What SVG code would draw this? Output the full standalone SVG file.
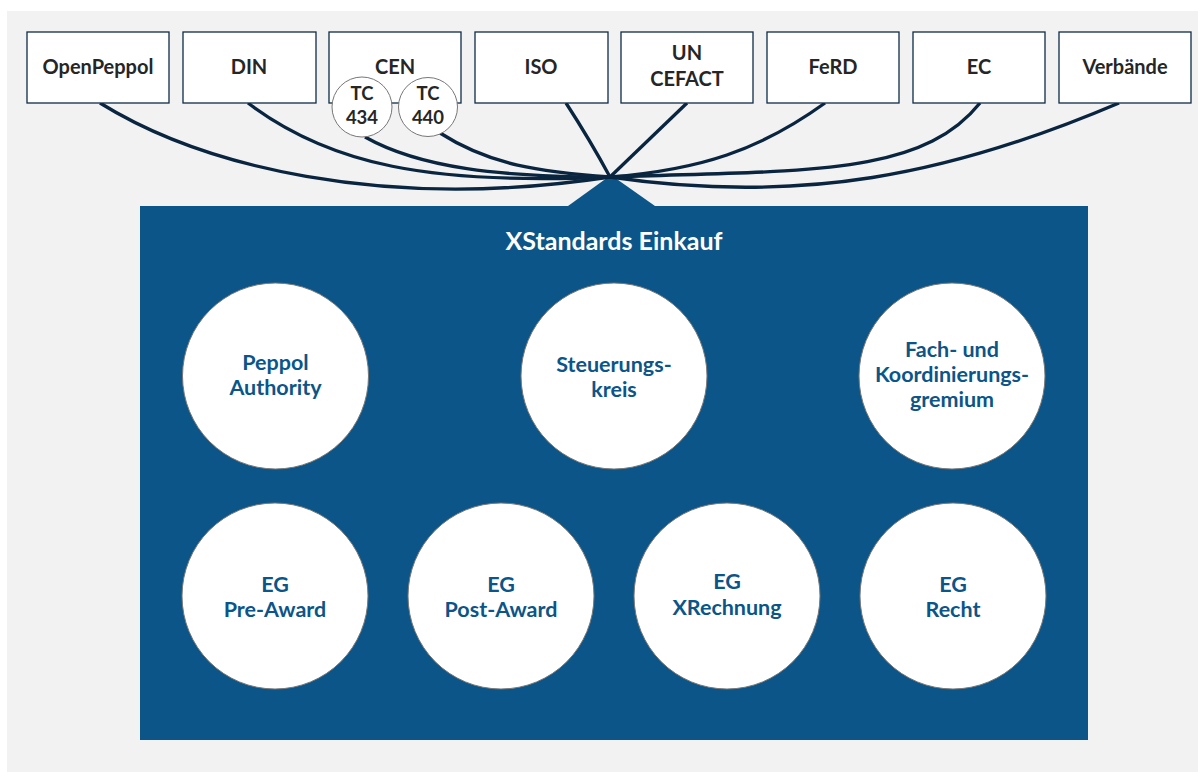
<svg xmlns="http://www.w3.org/2000/svg" width="1198" height="772" viewBox="0 0 1198 772">
<style>
.box{fill:#fff;stroke:#0d2b48;stroke-width:1.3}
.bt{font-family:Lato,"Open Sans",sans-serif;font-weight:bold;font-size:20px;fill:#262626;text-anchor:middle}
.tc{fill:#fff;stroke:#777;stroke-width:1}
.tct{font-family:Lato,"Open Sans",sans-serif;font-size:18.5px;font-weight:bold;fill:#262626;text-anchor:middle}
.circ{fill:#fff;stroke:#777;stroke-width:1}
.ct{font-family:Lato,"Open Sans",sans-serif;font-weight:bold;font-size:21.5px;fill:#0b5588;text-anchor:middle}
.con{fill:none;stroke:#09253f;stroke-width:3.3}
</style>
<rect x="7" y="11" width="1191" height="761" fill="#f2f2f2"/>
<g id="xstandards">
<polygon points="568,206 611,175 655,206" fill="#0b5588"/>
<rect x="140" y="206" width="948" height="534" fill="#0b5588"/>
<text x="614" y="250" font-family="Lato,'Open Sans',sans-serif" font-weight="bold" font-size="25" fill="#fff" text-anchor="middle">XStandards Einkauf</text>
</g>
<g id="connectors">
<path class="con" d="M100,103 C200,165 380,212 610,177"/>
<path class="con" d="M248,103 C330,165 430,185 610,177"/>
<path class="con" d="M365,137 C420,168 500,177 610,177"/>
<path class="con" d="M440,133 C490,165 540,172 610,177"/>
<path class="con" d="M566,103 Q590,140 610,177"/>
<path class="con" d="M687,103 L610,177"/>
<path class="con" d="M825,103 C760,150 700,170 610,177"/>
<path class="con" d="M980,103 C920,178 800,170 610,177"/>
<path class="con" d="M1119,103 C950,175 800,205 610,177"/>
</g>
<g id="openpeppol"><rect class="box" x="27" y="32" width="142" height="71"/><text class="bt" x="98" y="74">OpenPeppol</text></g>
<g id="din"><rect class="box" x="183" y="32" width="133" height="71"/><text class="bt" x="249" y="74">DIN</text></g>
<g id="cen"><rect class="box" x="329" y="32" width="132" height="71"/><text class="bt" x="395" y="74">CEN</text></g>
<g id="tc434"><circle class="tc" cx="362" cy="107" r="30"/><text class="tct" x="362" y="100">TC</text><text class="tct" x="362" y="124">434</text></g>
<g id="tc440"><circle class="tc" cx="428" cy="107" r="29.5"/><text class="tct" x="428" y="100">TC</text><text class="tct" x="428" y="124">440</text></g>
<g id="iso"><rect class="box" x="475" y="32" width="133" height="71"/><text class="bt" x="541" y="74">ISO</text></g>
<g id="uncefact"><rect class="box" x="621" y="32" width="132" height="71"/><text class="bt" x="687" y="60">UN</text><text class="bt" x="687" y="86">CEFACT</text></g>
<g id="ferd"><rect class="box" x="767" y="32" width="132" height="71"/><text class="bt" x="833" y="74">FeRD</text></g>
<g id="ec"><rect class="box" x="913" y="32" width="132" height="71"/><text class="bt" x="979" y="74">EC</text></g>
<g id="verbaende"><rect class="box" x="1059" y="32" width="132" height="71"/><text class="bt" x="1125" y="74">Verbände</text></g>
<g id="peppol-authority"><circle class="circ" cx="275.5" cy="376" r="93"/><text class="ct" x="275.5" y="370">Peppol</text><text class="ct" x="275.5" y="395">Authority</text></g>
<g id="steuerungskreis"><circle class="circ" cx="614" cy="376" r="93"/><text class="ct" x="614" y="372">Steuerungs-</text><text class="ct" x="614" y="397">kreis</text></g>
<g id="fachgremium"><circle class="circ" cx="952" cy="376" r="93"/><text class="ct" x="952" y="357">Fach- und</text><text class="ct" x="952" y="382">Koordinierungs-</text><text class="ct" x="952" y="407">gremium</text></g>
<g id="eg-preaward"><circle class="circ" cx="275" cy="596" r="93"/><text class="ct" x="275" y="592">EG</text><text class="ct" x="275" y="617">Pre-Award</text></g>
<g id="eg-postaward"><circle class="circ" cx="501" cy="596" r="93"/><text class="ct" x="501" y="592">EG</text><text class="ct" x="501" y="617">Post-Award</text></g>
<g id="eg-xrechnung"><circle class="circ" cx="727" cy="596" r="93"/><text class="ct" x="727" y="589">EG</text><text class="ct" x="727" y="615">XRechnung</text></g>
<g id="eg-recht"><circle class="circ" cx="953" cy="596" r="93"/><text class="ct" x="953" y="592">EG</text><text class="ct" x="953" y="617">Recht</text></g>
</svg>
